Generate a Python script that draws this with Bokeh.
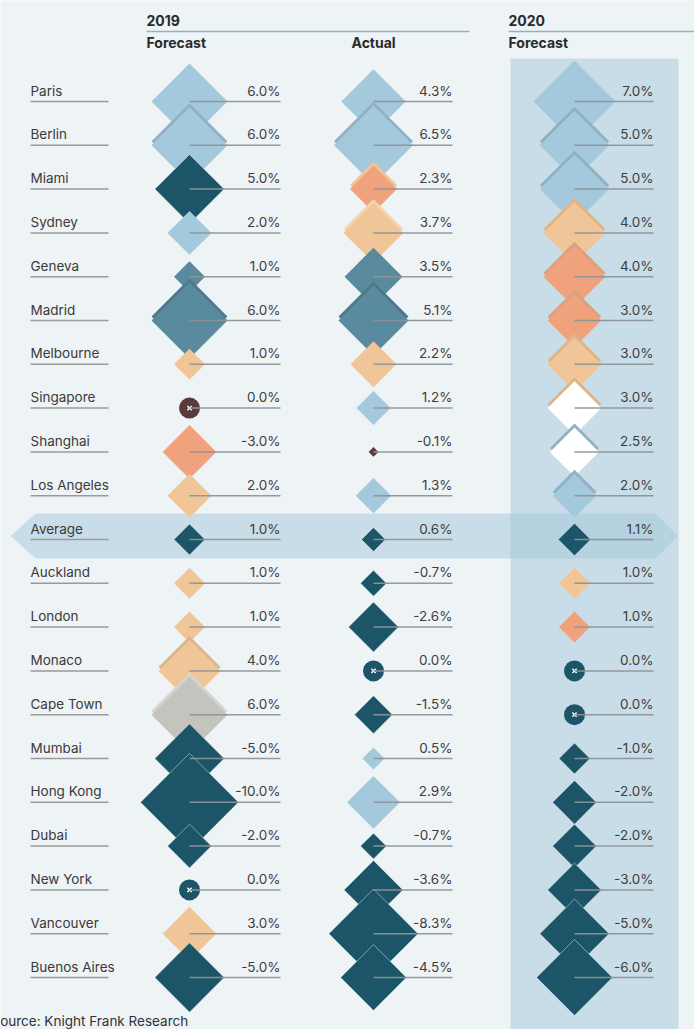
import math
from bokeh.plotting import figure
from bokeh.models import Range1d, ColumnDataSource
from bokeh.embed import file_html
from bokeh.resources import INLINE
from bokeh.core.properties import value

# ---------------- data ----------------
cities = ["Paris", "Berlin", "Miami", "Sydney", "Geneva", "Madrid", "Melbourne",
          "Singapore", "Shanghai", "Los Angeles", "Average", "Auckland", "London",
          "Monaco", "Cape Town", "Mumbai", "Hong Kong", "Dubai", "New York",
          "Vancouver", "Buenos Aires"]
forecast_2019 = [6.0, 6.0, 5.0, 2.0, 1.0, 6.0, 1.0, 0.0, -3.0, 2.0, 1.0, 1.0, 1.0,
                 4.0, 6.0, -5.0, -10.0, -2.0, 0.0, 3.0, -5.0]
actual_2019 = [4.3, 6.5, 2.3, 3.7, 3.5, 5.1, 2.2, 1.2, -0.1, 1.3, 0.6, -0.7, -2.6,
               0.0, -1.5, 0.5, 2.9, -0.7, -3.6, -8.3, -4.5]
forecast_2020 = [7.0, 5.0, 5.0, 4.0, 4.0, 3.0, 3.0, 3.0, 2.5, 2.0, 1.1, 1.0, 1.0,
                 0.0, 0.0, -1.0, -2.0, -2.0, -3.0, -5.0, -6.0]

# colour category of each marker
cat_f19 = ["lb", "lb", "dk", "lb", "mb", "mb", "pe", "br", "sa", "pe", "dk", "pe", "pe",
           "pe", "gr", "dk", "dk", "dk", "dk", "pe", "dk"]
cat_a19 = ["lb", "lb", "sa", "pe", "mb", "mb", "pe", "lb", "br", "lb", "dk", "dk", "dk",
           "dk", "dk", "lb", "lb", "dk", "dk", "dk", "dk"]
cat_f20 = ["lb", "lb", "lb", "pe", "sa", "sa", "pe", "wh", "wh", "lb", "dk", "pe", "sa",
           "dk", "dk", "dk", "dk", "dk", "dk", "dk", "dk"]
# category of the raised edge behind a marker ("" = none)
edge_f19 = ["", "lbe", "", "", "", "mbe", "", "", "", "", "", "", "", "pee", "gre",
            "", "", "", "", "", ""]
edge_a19 = ["", "lbe", "pe", "pel", "", "mbe", "", "", "", "", "", "", "", "", "",
            "", "", "", "", "", ""]
edge_f20 = ["", "lbe", "lbe", "pee", "sae", "sae", "pee", "pee", "lbe", "lbe", "", "",
            "", "", "", "", "", "", "", "", ""]

palette = {"lb": "#a4c8dc", "dk": "#1b5567", "mb": "#5a8a9e", "pe": "#f0c598",
           "sa": "#f0a27c", "gr": "#c5c3be", "br": "#5c3a3b", "wh": "#ffffff",
           "lbe": "#8fb1c3", "mbe": "#4c7a8c", "pee": "#dfb489", "pel": "#f4d3b0",
           "sae": "#dba27f", "gre": "#d6d4d0"}

# ---------------- layout ----------------
W, H = 694, 1029
BG = "#eef3f6"
ROW0, STEP = 101, 43.8
K = 15.5          # half diagonal of a diamond = K * sqrt(|value|)
EDGE_OFF = 4
TXT_OFF = 11      # label centre sits this far above its rule
NAME_X0, NAME_X1 = 30, 108
cols = [  # (values, cats, edges, centre x, label right x)
    (forecast_2019, cat_f19, edge_f19, 189, 280),
    (actual_2019, cat_a19, edge_a19, 373, 452),
    (forecast_2020, cat_f20, edge_f20, 574, 653),
]
FONT = value("Inter")
rows_y = [ROW0 + STEP * i for i in range(len(cities))]

p = figure(width=W, height=H, x_range=Range1d(0, W), y_range=Range1d(H, 0),
           output_backend="svg", toolbar_location=None,
           x_axis_type=None, y_axis_type=None, min_border=0)
p.grid.visible = False
p.outline_line_color = None
p.background_fill_color = BG
p.border_fill_color = BG

# 2020 shaded column
p.quad(left=[510], right=[678], top=[58], bottom=[H], fill_color="#c9dde8",
       line_color=None)

# average band (arrow shape)
ai = cities.index("Average")
ay = rows_y[ai] - 3.5
p.patch([10, 35, 655, 677, 655, 35], [ay, ay - 22.5, ay - 22.5, ay, ay + 22.5, ay + 22.5],
        fill_color="#a2c6d9", fill_alpha=0.49, line_color=None)

# headers
p.text(x=[146, 508], y=[20, 20], text=["2019", "2020"], text_font=FONT,
       text_font_size="14px", text_font_style="bold", text_color="#2a2a2a",
       text_baseline="middle")
p.segment(x0=[146, 508], y0=[31, 31], x1=[469, W], y1=[31, 31],
          line_color="#8fb3c6", line_width=1.5)
p.text(x=[146, 351, 508], y=[42, 42, 41.5], text=["Forecast", "Actual", "Forecast"],
       text_font=FONT, text_font_size="14px", text_font_style="bold",
       text_color="#2a2a2a", text_baseline="middle")

# city names
p.text(x=[NAME_X0] * len(cities), y=[y - TXT_OFF for y in rows_y], text=cities,
       text_font=FONT, text_font_size="13.5px", text_color="#3a3a3a",
       text_baseline="middle")
p.segment(x0=[NAME_X0] * len(cities), y0=rows_y, x1=[NAME_X1] * len(cities),
          y1=rows_y, line_color="#9a9a9a", line_width=1.5)

# diamonds (edge copy then main, row by row so lower rows overlap upper)
dx, dy, ds, dc, dl, dla = [], [], [], [], [], []
cx_, cy_, cc_ = [], [], []
for vals, cats, edges, cx, lx in cols:
    for i, v in enumerate(vals):
        y = rows_y[i]
        if v == 0:
            cx_.append(cx); cy_.append(y); cc_.append(palette[cats[i]])
            continue
        half = K * math.sqrt(abs(v))
        size = half * math.sqrt(2)
        if edges[i]:
            dx.append(cx); dy.append(y - EDGE_OFF); ds.append(size)
            dc.append(palette[edges[i]]); dl.append(palette[edges[i]]); dla.append(0.0)
        dx.append(cx); dy.append(y); ds.append(size); dc.append(palette[cats[i]])
        if cats[i] == "dk":
            dl.append("#ffffff"); dla.append(0.55)
        else:
            dl.append(palette[cats[i]]); dla.append(0.0)
src = ColumnDataSource(dict(x=dx, y=dy, size=ds, color=dc, lc=dl, la=dla))
p.scatter("x", "y", size="size", marker="square", angle=math.pi / 4, source=src,
          fill_color="color", line_color="lc", line_alpha="la", line_width=0.8)

# zero markers
p.scatter(cx_, cy_, size=21, marker="circle", fill_color=cc_, line_color=None)
p.scatter(cx_, cy_, size=6, marker="x", line_color="#ffffff", line_width=1.4)

# value leader lines + labels
for vals, cats, edges, cx, lx in cols:
    n = len(vals)
    p.segment(x0=[cx] * n, y0=rows_y, x1=[lx] * n, y1=rows_y,
              line_color="#8e9498", line_width=1.5, line_alpha=0.95)
    p.text(x=[lx] * n, y=[y - TXT_OFF for y in rows_y], text=[f"{v:.1f}%" for v in vals],
           text_font=FONT, text_font_size="13.5px", text_color="#3e3e3e",
           text_align="right", text_baseline="middle")

# source (its first letter is clipped by the page edge, as in the original)
p.text(x=[-9], y=[1020], text=["Source: Knight Frank Research"], text_font=FONT,
       text_font_size="13.5px", text_color="#333333", text_baseline="middle")

open("out.html", "w").write(file_html(p, INLINE))
